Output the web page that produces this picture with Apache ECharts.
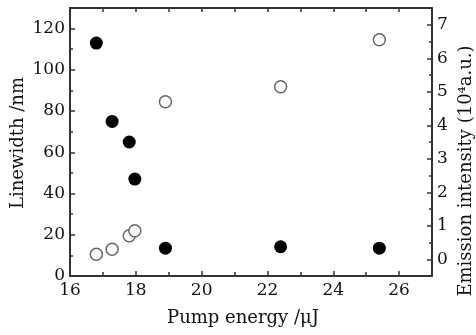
<!DOCTYPE html>
<html>
<head>
<meta charset="utf-8">
<script src="https://cdn.jsdelivr.net/npm/echarts@6/dist/echarts.min.js"></script>
<style>html,body{margin:0;padding:0;background:#fff;}#c{width:476px;height:335px;}</style>
</head>
<body>
<div id="c"></div>
<script>
// Data
var pumpEnergy = [16.8, 17.28, 17.8, 17.97, 18.9, 22.4, 25.4];
var linewidth = [113, 75, 65, 47, 13.5, 14.2, 13.5];
var emission = [0.15, 0.3, 0.7, 0.85, 4.7, 5.15, 6.55];

// Tick labels
var xTickLabels = [16, 18, 20, 22, 24, 26];
var xMinorTicks = [17, 19, 21, 23, 25];
var leftTickLabels = [0, 20, 40, 60, 80, 100, 120];
var leftMinorTicks = [10, 30, 50, 70, 90, 110];
var rightTickLabels = [0, 1, 2, 3, 4, 5, 6, 7];
var rightMinorTicks = [0.5, 1.5, 2.5, 3.5, 4.5, 5.5, 6.5];

var xTitle = 'Pump energy /\u03bcJ';
var leftTitle = 'Linewidth /nm';
var rightTitle = 'Emission intensity (10\u2074a.u.)';

var FONT = 'DejaVu Serif';
var AX = '#333';
var labelStyle = {color: '#111', fontFamily: FONT, fontSize: 17};

function pairs(xs, ys) { return xs.map(function (x, i) { return [x, ys[i]]; }); }

var chart = echarts.init(document.getElementById('c'), null, {renderer: 'canvas'});
chart.setOption({
  animation: false,
  backgroundColor: '#fff',
  grid: {left: 70, right: 44, top: 8, bottom: 59, containLabel: false},
  xAxis: [
    {type: 'value', min: 16, max: 27, position: 'bottom',
     axisLine: {show: true, onZero: false, lineStyle: {color: AX, width: 2}},
     axisTick: {show: true, inside: true, length: 5, lineStyle: {color: AX, width: 1.5}, customValues: xTickLabels},
     axisLabel: Object.assign({show: true, margin: 6, customValues: xTickLabels}, labelStyle),
     splitLine: {show: false}},
    {type: 'value', min: 16, max: 27, position: 'bottom',
     axisLine: {show: false, onZero: false},
     axisTick: {show: true, inside: true, length: 4, lineStyle: {color: AX, width: 1.5}, customValues: xMinorTicks},
     axisLabel: {show: false}, splitLine: {show: false}},
    {type: 'value', min: 16, max: 27, position: 'top',
     axisLine: {show: true, onZero: false, lineStyle: {color: AX, width: 2}},
     axisTick: {show: true, inside: true, length: 4, lineStyle: {color: AX, width: 1.5}, customValues: xTickLabels.concat(xMinorTicks)},
     axisLabel: {show: false}, splitLine: {show: false}}
  ],
  yAxis: [
    {type: 'value', min: 0, max: 130, position: 'left',
     axisLine: {show: true, onZero: false, lineStyle: {color: AX, width: 2}},
     axisTick: {show: true, inside: true, length: 5, lineStyle: {color: AX, width: 1.5}, customValues: leftTickLabels},
     axisLabel: Object.assign({show: true, margin: 5, customValues: leftTickLabels}, labelStyle),
     splitLine: {show: false}},
    {type: 'value', min: 0, max: 130, position: 'left',
     axisLine: {show: false, onZero: false},
     axisTick: {show: true, inside: true, length: 3, lineStyle: {color: AX, width: 1.5}, customValues: leftMinorTicks},
     axisLabel: {show: false}, splitLine: {show: false}},
    {type: 'value', min: -0.5, max: 7.5, position: 'right',
     axisLine: {show: true, onZero: false, lineStyle: {color: AX, width: 2}},
     axisTick: {show: true, inside: true, length: 5, lineStyle: {color: AX, width: 1.5}, customValues: rightTickLabels},
     axisLabel: Object.assign({show: true, margin: 5, customValues: rightTickLabels}, labelStyle),
     splitLine: {show: false}},
    {type: 'value', min: -0.5, max: 7.5, position: 'right',
     axisLine: {show: false, onZero: false},
     axisTick: {show: true, inside: true, length: 3, lineStyle: {color: AX, width: 1.5}, customValues: rightMinorTicks},
     axisLabel: {show: false}, splitLine: {show: false}}
  ],
  graphic: [
    {type: 'text', x: 243, y: 318, style: {text: xTitle, fontFamily: FONT, fontSize: 18, fill: '#111', textAlign: 'center', textVerticalAlign: 'middle'}},
    {type: 'text', x: 18, y: 143, rotation: Math.PI / 2, style: {text: leftTitle, fontFamily: FONT, fontSize: 18, fill: '#111', textAlign: 'center', textVerticalAlign: 'middle'}},
    {type: 'text', x: 466, y: 171, rotation: Math.PI / 2, style: {text: rightTitle, fontFamily: FONT, fontSize: 18, fill: '#111', textAlign: 'center', textVerticalAlign: 'middle'}}
  ],
  series: [
    {type: 'scatter', name: 'Linewidth', xAxisIndex: 0, yAxisIndex: 0,
     symbol: 'circle', symbolSize: 13,
     itemStyle: {color: '#000', borderWidth: 0, opacity: 1},
     data: pairs(pumpEnergy, linewidth)},
    {type: 'scatter', name: 'Emission', xAxisIndex: 0, yAxisIndex: 2,
     symbol: 'circle', symbolSize: 12,
     itemStyle: {color: '#fff', borderColor: '#666', borderWidth: 1.5, opacity: 1},
     data: pairs(pumpEnergy, emission)}
  ]
});
</script>
</body>
</html>
